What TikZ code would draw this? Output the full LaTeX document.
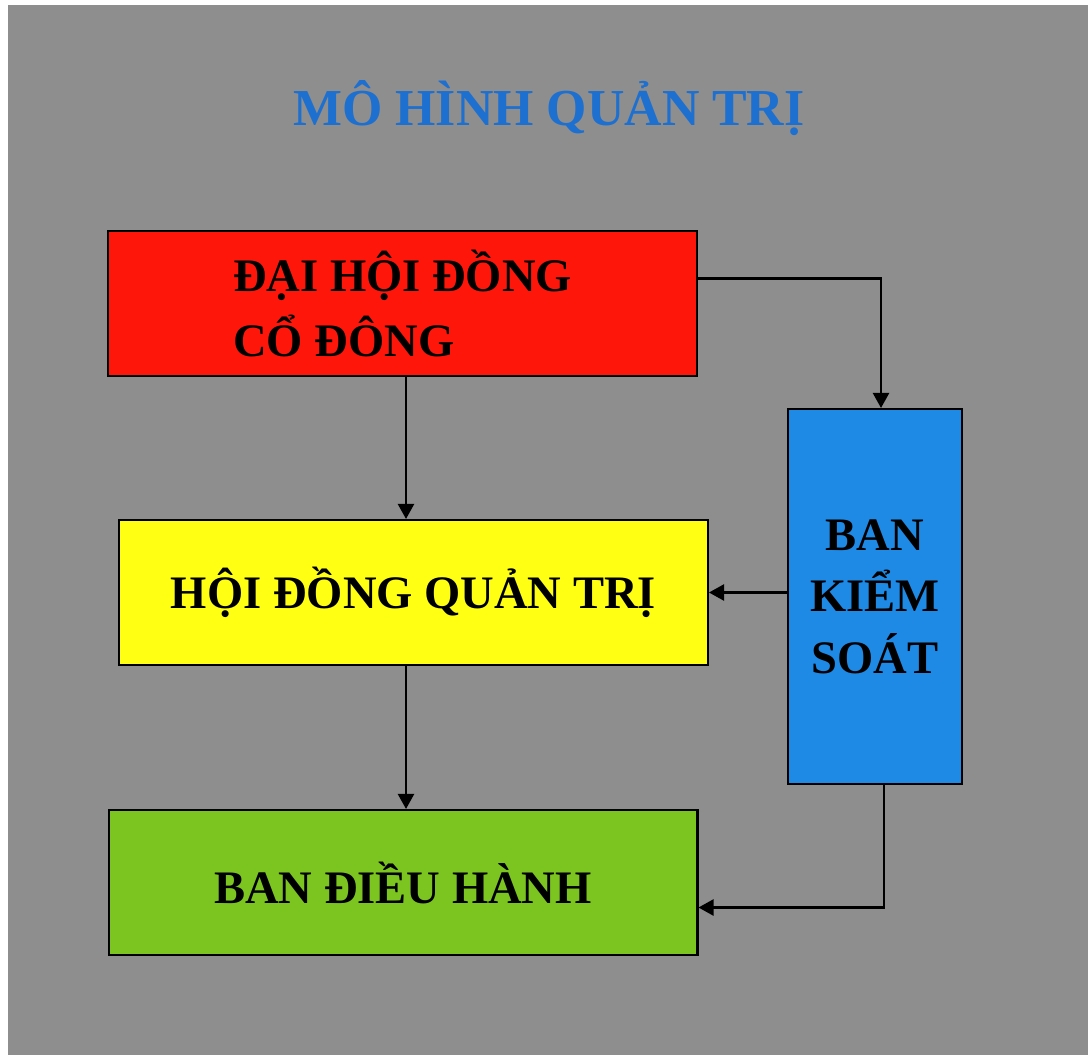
\documentclass[tikz,border=0pt]{standalone}
\usepackage{fontspec}
\setmainfont{Liberation Serif}
\usetikzlibrary{arrows.meta}
\definecolor{bggray}{RGB}{142,142,142}
\definecolor{titleblue}{RGB}{30,112,208}
\definecolor{agmred}{RGB}{255,22,10}
\definecolor{boardyellow}{RGB}{255,255,20}
\definecolor{execgreen}{RGB}{124,197,32}
\definecolor{ctrlblue}{RGB}{30,138,230}
\begin{document}
\begin{tikzpicture}[x=0.02cm, y=-0.02cm,
    box/.style={draw=black, line width=1.2pt, minimum width=11.78cm, minimum height=2.9cm,
      font=\fontsize{26.5}{37}\selectfont\bfseries},
    link/.style={-{Triangle[length=0.3cm,width=0.32cm]}, line width=1.3pt}]
         %background
         \useasboundingbox (0,0) rectangle (1088,1055);
         \fill[white] (0,0) rectangle (1088,1055);
         \fill[bggray] (8,5) rectangle (1088,1055);
         %nodes
         \node[font=\fontsize{29.5}{34}\selectfont\bfseries, text=titleblue] at (549,108) (title) {MÔ HÌNH QUẢN TRỊ};
         \node[box, fill=agmred, align=left] at (402.5,303.5) (agm) {ĐẠI HỘI ĐỒNG\\CỔ ĐÔNG};
         \node[box, fill=boardyellow] at (413.5,592.5) (board) {HỘI ĐỒNG QUẢN TRỊ};
         \node[box, fill=execgreen] at (403,882.5) (exec) {BAN ĐIỀU HÀNH};
         \node[box, fill=ctrlblue, minimum width=3.48cm, minimum height=7.5cm, align=center,
               font=\fontsize{26.5}{35}\selectfont\bfseries] at (875,596.5) (ctrl) {BAN\\KIỂM\\SOÁT};
         %connectors
         \draw[link] ([yshift=0.5cm]agm.east) -| ([xshift=0.12cm]ctrl.north);
         \draw[link] ([xshift=0.07cm]agm.south) -- ([xshift=0.07cm]agm.south |- board.north);
         \draw[link] (ctrl.west |- board.east) -- (board.east);
         \draw[link] ([xshift=0.07cm]agm.south |- board.south) -- ([xshift=0.07cm]agm.south |- exec.north);
         \draw[link] ([xshift=0.18cm]ctrl.south) |- ([yshift=-0.5cm]exec.east);
    \end{tikzpicture}
\end{document}
